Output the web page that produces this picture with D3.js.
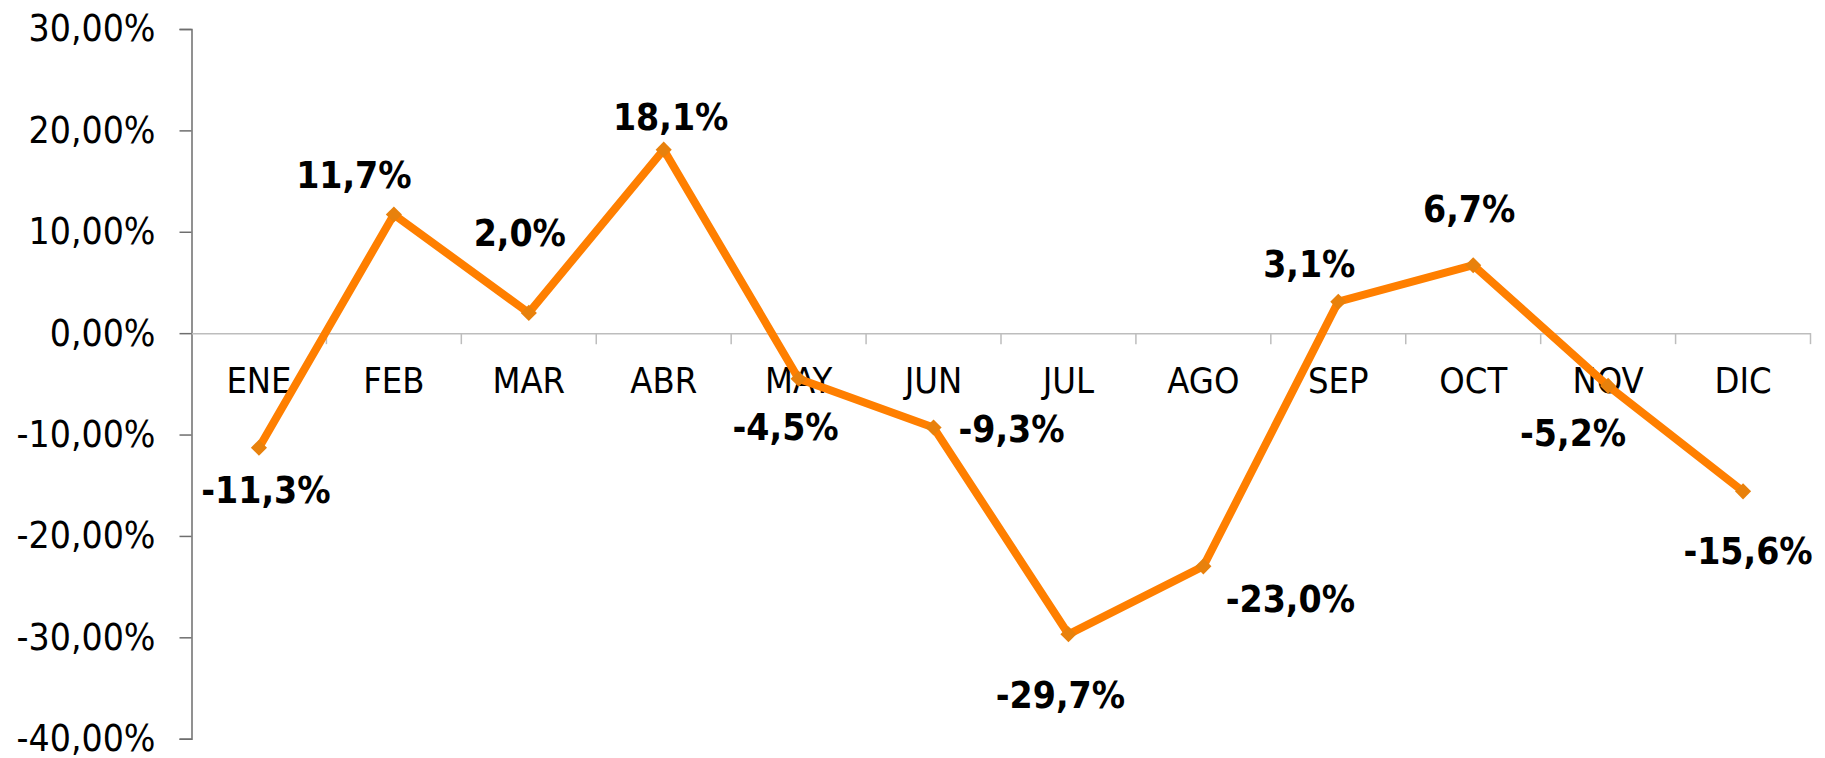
<!DOCTYPE html>
<html lang="es">
	<head>
		<meta charset="utf-8">
		<title>Variación mensual</title>
		<style type="text/css">
			body { margin: 0; background: #fff; }
			text { font-family: "DejaVu Sans Condensed", "DejaVu Sans", sans-serif; }
		</style>
	</head>
	<body>
		<script src="https://cdn.jsdelivr.net/npm/d3@7"></script>
		<script type="text/javascript">
			//Width and height
			var w = 1825;
			var h = 758;

			//Data
			var months = ["ENE", "FEB", "MAR", "ABR", "MAY", "JUN", "JUL", "AGO", "SEP", "OCT", "NOV", "DIC"];
			var values = [-11.3, 11.7, 2.0, 18.1, -4.5, -9.3, -29.7, -23.0, 3.1, 6.7, -5.2, -15.6];
			var yTicks = [30, 20, 10, 0, -10, -20, -30, -40];

			//Label placement (dx from the point, dy to the baseline)
			var labelOffsets = [
				[7, 55], [-40, -27], [-9, -67], [7, -20], [-13, 61], [78, 15],
				[-8, 74], [87, 46], [-29, -25], [-4, -43], [-35, 60], [5, 73]
			];

			var es = d3.formatLocale({decimal: ",", thousands: ".", grouping: [3], currency: ["", " €"], minus: "-"});
			var fmtTick = es.format(".2f");
			var fmtLabel = es.format(".1f");

			//Scales
			var xScale = d3.scaleBand()
							.domain(months)
							.range([191.5, 1810.5]);

			var yScale = d3.scaleLinear()
							.domain([-40, 30])
							.range([738.7, 29]);

			var svg = d3.select("body")
						.append("svg")
						.attr("width", w)
						.attr("height", h);

			//Y axis
			var yAxis = d3.axisLeft(yScale)
							.tickValues(yTicks)
							.tickSize(12)
							.tickPadding(24)
							.tickFormat(function(d) { return fmtTick(d) + "%"; });

			var gy = svg.append("g")
						.attr("transform", "translate(191.5,0)")
						.call(yAxis);
			gy.select(".domain").attr("stroke", "#6e6e6e").attr("stroke-width", 1.5);
			gy.selectAll(".tick line").attr("stroke", "#6e6e6e").attr("stroke-width", 1.5);
			gy.selectAll(".tick text")
			  .attr("font-size", "37px")
			  .attr("fill", "#000")
			  .style("font-family", "'DejaVu Sans Condensed', 'DejaVu Sans', sans-serif");

			//Category axis at zero
			var xAxis = d3.axisBottom(xScale)
							.tickSize(0)
							.tickPadding(34)
							.tickSizeOuter(0);

			var gx = svg.append("g")
						.attr("transform", "translate(0," + yScale(0) + ")")
						.call(xAxis);
			gx.select(".domain").attr("stroke", "#bdbdbd").attr("stroke-width", 1.5);
			gx.selectAll(".tick text")
			  .attr("font-size", "36px")
			  .attr("fill", "#000")
			  .style("font-family", "'DejaVu Sans Condensed', 'DejaVu Sans', sans-serif");

			//Category separators
			gx.selectAll("line.sep")
			  .data(months)
			  .enter()
			  .append("line")
			  .attr("class", "sep")
			  .attr("x1", function(d) { return xScale(d) + xScale.bandwidth(); })
			  .attr("x2", function(d) { return xScale(d) + xScale.bandwidth(); })
			  .attr("y1", 0)
			  .attr("y2", 11)
			  .attr("stroke", "#bdbdbd")
			  .attr("stroke-width", 1.5);

			//Line
			var line = d3.line()
						.x(function(d, i) { return xScale(months[i]) + xScale.bandwidth() / 2; })
						.y(function(d) { return yScale(d); });

			svg.append("path")
			   .datum(values)
			   .attr("d", line)
			   .attr("fill", "none")
			   .attr("stroke", "#ff7f00")
			   .attr("stroke-width", 8)
			   .attr("stroke-linejoin", "miter");

			//Markers
			svg.selectAll("path.marker")
			   .data(values)
			   .enter()
			   .append("path")
			   .attr("class", "marker")
			   .attr("d", d3.symbol().type(d3.symbolSquare).size(130))
			   .attr("transform", function(d, i) {
			   		return "translate(" + (xScale(months[i]) + xScale.bandwidth() / 2) + "," + yScale(d) + ") rotate(45)";
			   })
			   .attr("fill", "#e8810c");

			//Labels
			svg.selectAll("text.lbl")
			   .data(values)
			   .enter()
			   .append("text")
			   .attr("class", "lbl")
			   .text(function(d) { return fmtLabel(d) + "%"; })
			   .attr("x", function(d, i) { return xScale(months[i]) + xScale.bandwidth() / 2 + labelOffsets[i][0]; })
			   .attr("y", function(d, i) { return yScale(d) + labelOffsets[i][1]; })
			   .attr("text-anchor", "middle")
			   .attr("font-size", "37px")
			   .attr("font-weight", "bold")
			   .attr("fill", "#000");
		</script>
	</body>
</html>
